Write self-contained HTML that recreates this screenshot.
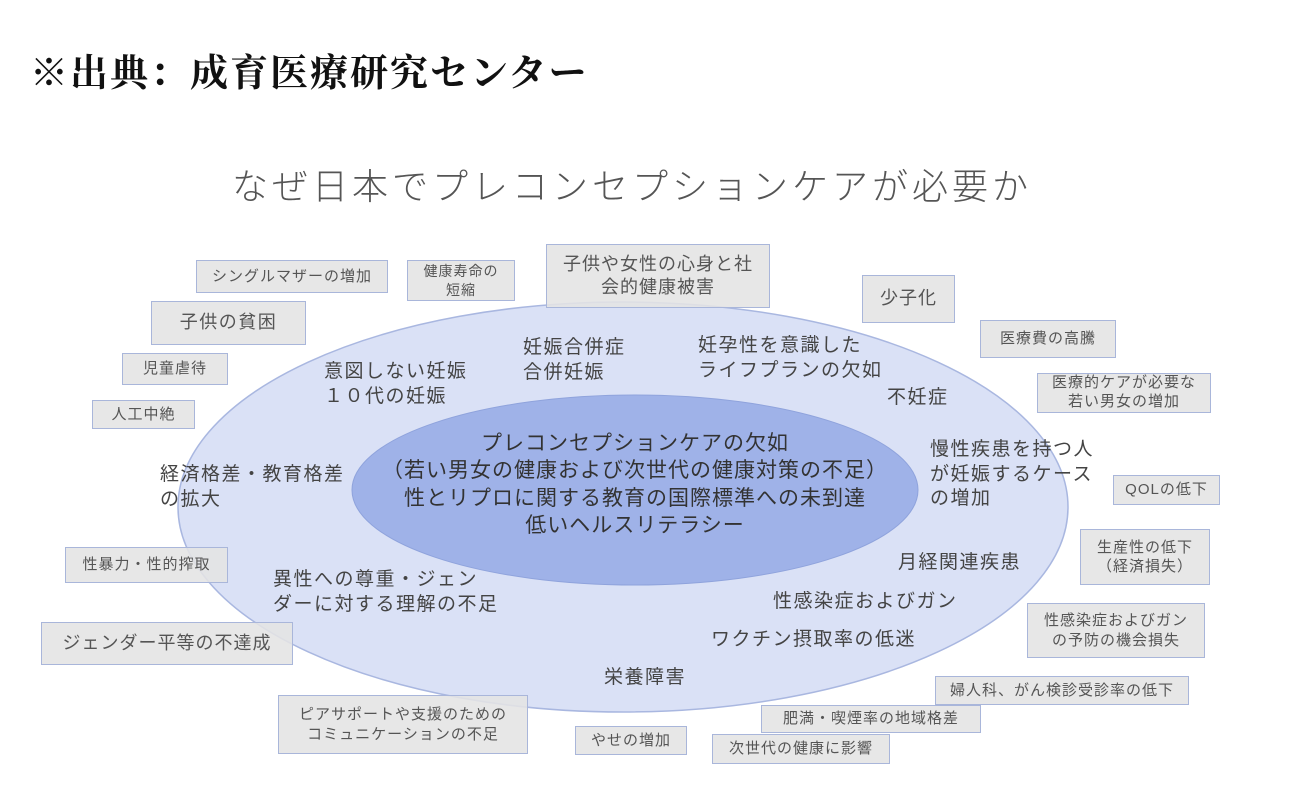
<!DOCTYPE html>
<html><head><meta charset="utf-8"><style>
body{margin:0;width:1290px;height:807px;background:#fff;position:relative;overflow:hidden;font-family:"Liberation Sans","Noto Sans CJK JP",sans-serif;color:#444}
.t{position:absolute;white-space:nowrap}
.b{position:absolute;background:rgba(228,228,228,0.88);border:1.5px solid #a9b6da;box-sizing:border-box;display:flex;align-items:center;justify-content:center;text-align:center;color:#555;line-height:1.3;font-size:15px;letter-spacing:1px;white-space:nowrap}
.e{position:absolute;font-size:19px;letter-spacing:1.5px;color:#444;line-height:1.3;white-space:nowrap}
</style></head><body>
<div class="t" style="left:30px;top:42px;font-size:38px;letter-spacing:2px;font-family:'Liberation Serif','Noto Serif CJK SC',serif;color:#111;font-weight:bold">※出典：成育医療研究センター</div>
<div class="t" style="left:232px;top:158px;font-size:36px;letter-spacing:4px;color:#555;font-weight:300">なぜ日本でプレコンセプションケアが必要か</div>
<svg style="position:absolute;left:0;top:0" width="1290" height="807">
<ellipse cx="623" cy="507" rx="445" ry="205" fill="#dae1f6" stroke="#a9b7e0" stroke-width="1.5"/>
<ellipse cx="635" cy="490" rx="283" ry="95" fill="#9fb2e8" stroke="#8fa3dc" stroke-width="1"/>
</svg>
<div class="e" style="left:324px;top:360px">意図しない妊娠<br>１０代の妊娠</div>
<div class="e" style="left:523px;top:336px">妊娠合併症<br>合併妊娠</div>
<div class="e" style="left:698px;top:334px">妊孕性を意識した<br>ライフプランの欠如</div>
<div class="e" style="left:887px;top:386px">不妊症</div>
<div class="e" style="left:930px;top:438px">慢性疾患を持つ人<br>が妊娠するケース<br>の増加</div>
<div class="e" style="left:160px;top:463px">経済格差・教育格差<br>の拡大</div>
<div class="e" style="left:898px;top:551px">月経関連疾患</div>
<div class="e" style="left:273px;top:568px">異性への尊重・ジェン<br>ダーに対する理解の不足</div>
<div class="e" style="left:773px;top:590px">性感染症およびガン</div>
<div class="e" style="left:711px;top:628px">ワクチン摂取率の低迷</div>
<div class="e" style="left:604px;top:666px">栄養障害</div>
<div class="e" style="left:340px;top:430px;width:590px;text-align:center;font-size:21px;letter-spacing:1px;color:#333;line-height:1.3">プレコンセプションケアの欠如<br>（若い男女の健康および次世代の健康対策の不足）<br>性とリプロに関する教育の国際標準への未到達<br>低いヘルスリテラシー</div>
<div class="b" style="left:196px;top:260px;width:192px;height:33px">シングルマザーの増加</div>
<div class="b" style="left:407px;top:260px;width:108px;height:41px;font-size:14px">健康寿命の<br>短縮</div>
<div class="b" style="left:546px;top:244px;width:224px;height:64px;font-size:18px">子供や女性の心身と社<br>会的健康被害</div>
<div class="b" style="left:862px;top:275px;width:93px;height:48px;font-size:18px">少子化</div>
<div class="b" style="left:151px;top:301px;width:155px;height:44px;font-size:18px;letter-spacing:1.5px">子供の貧困</div>
<div class="b" style="left:980px;top:320px;width:136px;height:38px">医療費の高騰</div>
<div class="b" style="left:122px;top:353px;width:106px;height:32px">児童虐待</div>
<div class="b" style="left:1037px;top:373px;width:174px;height:40px;line-height:1.25">医療的ケアが必要な<br>若い男女の増加</div>
<div class="b" style="left:92px;top:400px;width:103px;height:29px">人工中絶</div>
<div class="b" style="left:1113px;top:475px;width:107px;height:30px">QOLの低下</div>
<div class="b" style="left:1080px;top:529px;width:130px;height:56px">生産性の低下<br>（経済損失）</div>
<div class="b" style="left:65px;top:547px;width:163px;height:36px">性暴力・性的搾取</div>
<div class="b" style="left:1027px;top:603px;width:178px;height:55px">性感染症およびガン<br>の予防の機会損失</div>
<div class="b" style="left:41px;top:622px;width:252px;height:43px;font-size:18px">ジェンダー平等の不達成</div>
<div class="b" style="left:935px;top:676px;width:254px;height:29px">婦人科、がん検診受診率の低下</div>
<div class="b" style="left:278px;top:695px;width:250px;height:59px">ピアサポートや支援のための<br>コミュニケーションの不足</div>
<div class="b" style="left:761px;top:705px;width:220px;height:28px">肥満・喫煙率の地域格差</div>
<div class="b" style="left:575px;top:726px;width:112px;height:29px">やせの増加</div>
<div class="b" style="left:712px;top:734px;width:178px;height:30px">次世代の健康に影響</div>
</body></html>
